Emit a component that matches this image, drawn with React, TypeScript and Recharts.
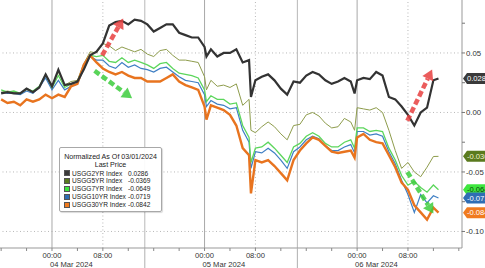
import React from 'react';
import { LineChart, Line, XAxis, YAxis, ReferenceLine, ReferenceDot } from 'recharts';

// hours since 04 Mar 2024 00:00
const hours = [-8,-7,-6,-5,-4,-3,-2,-1,
  0,1,2,3,4,5,6,7,8,9,
  10,11,12,13,14,15,16,17,18,19,
  20,21,22,23,24,24.3,
  25,26,27,28,29,
  30,31,31.3,
  32,33,34,35,36,37,38,39,
  40,41,42,43,44,45,46,47,47.6,
  48,49,
  50,51,52,53,54,55,56,57,58,59,60,
  60.8];

const usgg2yr = [0.016,0.017,0.016,0.016,0.020,0.017,0.021,0.032,
  0.022,0.036,0.023,0.024,0.026,0.036,0.048,0.051,0.058,0.073,
  0.076,0.077,0.074,0.078,0.077,0.074,0.068,0.071,0.074,0.074,
  0.067,0.065,0.063,0.063,0.055,0.047,
  0.053,0.047,0.050,0.050,0.053,
  0.042,0.044,0.013,
  0.027,0.030,0.032,0.027,0.020,0.015,0.026,0.025,
  0.031,0.034,0.032,0.027,0.024,0.026,0.029,0.026,0.016,
  0.027,0.029,
  0.028,0.034,0.031,0.013,0.011,0.005,-0.002,-0.011,0.000,0.004,0.027,
  0.0286];

const usgg5yr = [0.017,0.018,0.017,0.016,0.019,0.017,0.021,0.031,
  0.022,0.034,0.023,0.026,0.027,0.041,0.051,0.050,0.058,0.056,
  0.052,0.055,0.053,0.051,0.053,0.049,0.047,0.052,0.053,0.048,
  0.044,0.044,0.043,0.042,0.030,0.019,
  0.027,0.022,0.023,0.021,0.024,
  0.006,0.011,-0.015,
  -0.017,-0.012,-0.008,-0.012,-0.018,-0.023,-0.011,-0.010,
  -0.002,0.000,-0.003,-0.009,-0.013,-0.012,-0.005,-0.008,-0.015,
  0.004,0.003,
  0.002,0.004,0.000,-0.015,-0.032,-0.047,-0.042,-0.050,-0.054,-0.046,-0.037,
  -0.0369];

const usgg7yr = [0.019,0.017,0.018,0.016,0.020,0.018,0.022,0.032,
  0.021,0.031,0.021,0.024,0.026,0.039,0.048,0.047,0.048,0.043,
  0.042,0.046,0.042,0.044,0.042,0.040,0.037,0.041,0.042,0.037,
  0.033,0.032,0.031,0.029,0.019,0.009,
  0.014,0.011,0.011,0.007,0.008,
  -0.011,-0.021,-0.042,
  -0.030,-0.029,-0.025,-0.030,-0.036,-0.042,-0.029,-0.026,
  -0.020,-0.017,-0.020,-0.026,-0.029,-0.029,-0.025,-0.023,-0.030,
  -0.013,-0.013,
  -0.016,-0.015,-0.016,-0.030,-0.040,-0.053,-0.061,-0.058,-0.063,-0.067,-0.061,
  -0.0649];

const usgg10yr = [0.017,0.016,0.016,0.015,0.018,0.016,0.021,0.029,
  0.019,0.027,0.019,0.022,0.024,0.037,0.047,0.044,0.044,0.039,
  0.037,0.042,0.038,0.040,0.037,0.036,0.034,0.037,0.038,0.034,
  0.030,0.027,0.026,0.025,0.015,0.005,
  0.010,0.007,0.006,0.003,0.004,
  -0.015,-0.025,-0.047,
  -0.033,-0.034,-0.030,-0.034,-0.040,-0.047,-0.033,-0.029,
  -0.023,-0.020,-0.022,-0.028,-0.032,-0.032,-0.029,-0.027,-0.034,
  -0.016,-0.016,
  -0.019,-0.018,-0.020,-0.033,-0.043,-0.057,-0.069,-0.084,-0.069,-0.076,-0.070,
  -0.0719];

const usgg30yr = [0.011,0.008,0.009,0.006,0.011,0.009,0.011,0.015,
  0.012,0.015,0.013,0.022,0.024,0.040,0.048,0.042,0.037,0.034,
  0.032,0.034,0.031,0.029,0.029,0.026,0.026,0.026,0.029,0.032,
  0.026,0.023,0.021,0.019,0.005,-0.006,
  0.006,0.004,0.002,-0.002,-0.011,
  -0.030,-0.036,-0.068,
  -0.040,-0.042,-0.040,-0.045,-0.051,-0.057,-0.040,-0.032,
  -0.026,-0.021,-0.023,-0.028,-0.033,-0.034,-0.033,-0.032,-0.038,
  -0.021,-0.018,
  -0.023,-0.025,-0.026,-0.036,-0.046,-0.059,-0.065,-0.078,-0.084,-0.090,-0.080,
  -0.0842];

const seriesNames = ['USGG2YR Index', 'USGG5YR Index', 'USGG7YR Index', 'USGG10YR Index', 'USGG30YR Index'];
const seriesKeys = ['y2', 'y5', 'y7', 'y10', 'y30'];
const seriesValues = [usgg2yr, usgg5yr, usgg7yr, usgg10yr, usgg30yr];
const lineColors = ['#333333', '#8e9c4c', '#5cd65c', '#3f7fc4', '#e8741f'];
const lineWidths = [2.2, 1, 1.3, 1.2, 2.4];
const swatchColors = ['#3a3a3a', '#5a7a1e', '#3ee63e', '#2f6db3', '#f07b1f'];
const badgeText = ['#ffffff', '#f4f4d0', '#0b3d0b', '#ffffff', '#ffffff'];
const drawOrder = [1, 3, 2, 4, 0];

const xDomain = [-8.18, 64.5];
const yDomain = [-0.1139, 0.0945];
const xTicks = [-8, -4, 0, 4, 8, 12, 16, 20, 24, 28, 32, 36, 40, 44, 48, 52, 56, 60, 64];
const sepHours = [14.6, 38.6];
const dayHours = [0, 24, 48];
const dayLabels = ['04 Mar 2024', '05 Mar 2024', '06 Mar 2024'];
const timeLabelHours = [0, 8, 24, 32, 48, 56];
const timeLabels = ['00:00', '08:00', '00:00', '08:00', '00:00', '08:00'];
const dottedHours = [8, 32, 56];
const yMajor = [-0.1, -0.05, 0, 0.05];
const yLabels = ['-0.10', '-0.05', '0.00', '0.05'];
const yMinor = [-0.075, -0.025, 0.025, 0.075];

// annotation arrows, in data coordinates [from, to]
const redArrows = [
  [{ x: 7.9, y: 0.048 }, { x: 11.2, y: 0.079 }],
  [{ x: 55.9, y: -0.007 }, { x: 59.8, y: 0.036 }],
];
const greenArrows = [
  [{ x: 6.7, y: 0.035 }, { x: 12.6, y: 0.012 }],
  [{ x: 55.9, y: -0.050 }, { x: 60.0, y: -0.085 }],
];

const data = hours.map((h, i) => {
  const row: any = { h };
  seriesKeys.forEach((k, j) => { row[k] = seriesValues[j][i]; });
  return row;
});

const FONT = '"Liberation Sans", Arial, sans-serif';

const XTick = (props: any) => {
  const { x, y, payload } = props;
  const v = payload.value;
  if (sepHours.includes(v)) {
    return <line x1={x} x2={x} y1={y} y2={y + 20} stroke="#b0b0b0" strokeWidth={1} />;
  }
  const li = timeLabelHours.indexOf(v);
  const di = dayHours.indexOf(v);
  return (
    <g>
      <line x1={x} x2={x} y1={y} y2={y + 3} stroke="#888" />
      {li >= 0 && (
        <text x={x} y={y + 10} textAnchor="middle" fontSize={7.6} fontFamily={FONT} fill="#333">{timeLabels[li]}</text>
      )}
      {di >= 0 && (
        <text x={x - 2} y={y + 19} textAnchor="start" fontSize={7.6} fontFamily={FONT} fill="#333">{dayLabels[di]}</text>
      )}
    </g>
  );
};

const YTick = (props: any) => {
  const { x, y, payload } = props;
  const v = payload.value;
  const i = yMajor.indexOf(v);
  return (
    <g>
      <line x1={x} x2={x + 3} y1={y} y2={y} stroke="#777" />
      {i >= 0 && (
        <text x={x + 4} y={y + 3} fontSize={7.8} fontFamily={FONT} fill="#333">{yLabels[i]}</text>
      )}
    </g>
  );
};

const makeArrow = (color: string) => (p: any) => {
  const { x1, y1, x2, y2 } = p;
  const dx = x2 - x1, dy = y2 - y1;
  const len = Math.sqrt(dx * dx + dy * dy) || 1;
  const ux = dx / len, uy = dy / len;
  const head = 10, hw = 6;
  const bx = x2 - ux * head, by = y2 - uy * head;
  const px = -uy, py = ux;
  return (
    <g>
      <line x1={x1} y1={y1} x2={bx} y2={by} stroke={color} strokeWidth={4.5} strokeDasharray="6 3" />
      <polygon points={`${x2},${y2} ${bx + px * hw},${by + py * hw} ${bx - px * hw},${by - py * hw}`} fill={color} />
    </g>
  );
};

const makeBadge = (bg: string, fg: string, text: string) => (p: any) => {
  const { cx, cy } = p;
  const h = 5.5;
  return (
    <g>
      <polygon points={`${cx + 1},${cy} ${cx + 5},${cy - h} ${cx + 45},${cy - h} ${cx + 45},${cy + h} ${cx + 5},${cy + h}`} fill={bg} />
      <text x={cx + 5} y={cy + 2.8} fontSize={7.6} fontFamily={FONT} fill={fg}>{text}</text>
    </g>
  );
};

const Legend = () => (
  <div style={{
    position: 'absolute', left: 59, top: 147, width: 103, height: 65,
    border: '1px solid #a8a8a8', borderRadius: 2, background: 'rgba(255,255,255,0.92)',
    fontFamily: FONT, color: '#222', lineHeight: '7.8px', paddingTop: 6, boxSizing: 'border-box',
    boxShadow: '1px 1px 1px rgba(0,0,0,0.15)',
  }}>
    <div style={{ textAlign: 'center', whiteSpace: 'nowrap', fontSize: 7.1 }}>Normalized As Of 03/01/2024</div>
    <div style={{ textAlign: 'center', fontSize: 7.1 }}>Last Price</div>
    {seriesNames.map((n, i) => {
      const arr = seriesValues[i];
      return (
        <div key={n} style={{ display: 'flex', alignItems: 'center', whiteSpace: 'nowrap', height: 7.8, fontSize: 6.6 }}>
          <span style={{ display: 'inline-block', width: 6, height: 6, background: swatchColors[i], border: '0.5px solid #555', marginLeft: 4, marginRight: 2, boxSizing: 'border-box', flexShrink: 0 }} />
          <span style={{ width: 56, flexShrink: 0 }}>{n}</span>
          <span>{arr[arr.length - 1].toFixed(4)}</span>
        </div>
      );
    })}
  </div>
);

export default function App() {
  return (
    <div style={{ position: 'absolute', left: 0, top: 0, width: 485, height: 268, background: '#fff', overflow: 'hidden' }}>
      <LineChart width={485} height={268} data={data} margin={{ top: 0, right: 0, bottom: 0, left: 0 }}>
        <XAxis dataKey="h" type="number" domain={xDomain} allowDataOverflow ticks={[...xTicks, ...sepHours]} interval={0}
          tick={XTick} tickLine={false} tickSize={0} tickMargin={0} height={20} axisLine={{ stroke: '#999' }} />
        <YAxis orientation="right" width={23} type="number" domain={yDomain} allowDataOverflow ticks={[...yMinor, ...yMajor]} interval={0}
          tick={YTick} tickLine={false} tickSize={0} tickMargin={0} axisLine={{ stroke: '#999' }} />
        {yMajor.map(v => <ReferenceLine key={'gy' + v} y={v} stroke="#b8b8b8" strokeDasharray="1 2.5" />)}
        {dottedHours.map(v => <ReferenceLine key={'gx' + v} x={v} stroke="#b8b8b8" strokeDasharray="1 2.5" />)}
        {dayHours.map(v => <ReferenceLine key={'dx' + v} x={v} stroke="#a8a8a8" />)}
        {sepHours.map(v => <ReferenceLine key={'sx' + v} x={v} stroke="#b8b8b8" />)}
        {drawOrder.map(j => (
          <Line key={seriesKeys[j]} dataKey={seriesKeys[j]} stroke={lineColors[j]} strokeWidth={lineWidths[j]}
            dot={false} activeDot={false} isAnimationActive={false} type="linear" />
        ))}
        {redArrows.map((s, i) => <ReferenceLine key={'ra' + i} segment={s} shape={makeArrow('rgba(232,64,64,0.85)')} />)}
        {greenArrows.map((s, i) => <ReferenceLine key={'ga' + i} segment={s} shape={makeArrow('rgba(60,205,60,0.85)')} />)}
        {seriesNames.map((n, i) => {
          const arr = seriesValues[i];
          const last = arr[arr.length - 1];
          return <ReferenceDot key={'b' + i} x={xDomain[1]} y={last} r={0} ifOverflow="visible"
            shape={makeBadge(swatchColors[i], badgeText[i], last.toFixed(4))} />;
        })}
      </LineChart>
      <Legend />
    </div>
  );
}
